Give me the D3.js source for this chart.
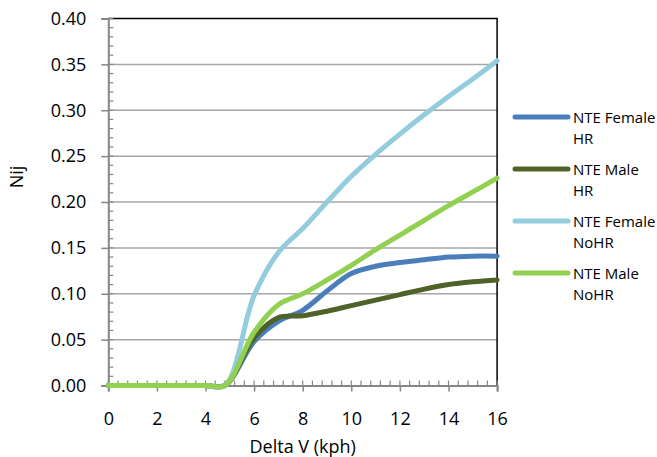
<!DOCTYPE html>
<html>
<head>
<meta charset="utf-8">
<script src="https://cdn.jsdelivr.net/npm/d3@7"></script>
<style>
    body { margin: 0; background: #fff; }
    text { font-family: "Open Sans", sans-serif; fill: #000; }
</style>
</head>
<body>
<svg id="chart" width="657" height="457"></svg>
<script>
// values
var deltaV = [0, 1, 2, 3, 4, 4.8, 6, 7, 8, 9, 10, 11, 12, 13, 14, 15, 16];
var femaleHR = [0, 0, 0, 0, 0, 0, 0.048, 0.070, 0.082, 0.103, 0.122, 0.130, 0.134, 0.137, 0.140, 0.141, 0.141];
var maleHR = [0, 0, 0, 0, 0, 0, 0.052, 0.074, 0.076, 0.081, 0.087, 0.093, 0.099, 0.105, 0.110, 0.113, 0.115];
var femaleNoHR = [0, 0, 0, 0, 0, 0, 0.098, 0.145, 0.171, 0.200, 0.228, 0.252, 0.274, 0.295, 0.315, 0.334, 0.354];
var maleNoHR = [0, 0, 0, 0, 0, 0, 0.058, 0.088, 0.100, 0.115, 0.131, 0.148, 0.164, 0.180, 0.196, 0.211, 0.226];

var seriesNames = ["NTE Female HR", "NTE Male HR", "NTE Female NoHR", "NTE Male NoHR"];
var seriesColors = ["#4a7ebb", "#4f6228", "#93cddd", "#92d050"];
var xTicks = [0, 2, 4, 6, 8, 10, 12, 14, 16];
var yTicks = [0, 0.05, 0.10, 0.15, 0.20, 0.25, 0.30, 0.35, 0.40];

var svg = d3.select("#chart");

var margins = { top: 18.5, left: 108.3, right: 497.1, bottom: 385.5 };

var xScale = d3.scaleLinear().domain([0, 16]).range([margins.left, margins.right]);
var yScale = d3.scaleLinear().domain([0, 0.4]).range([margins.bottom, margins.top]);

// gridlines
svg.append("g").attr("class", "grid")
    .selectAll("line")
    .data(yTicks.slice(1, -1))
    .enter().append("line")
    .attr("x1", margins.left)
    .attr("x2", margins.right)
    .attr("y1", yScale)
    .attr("y2", yScale)
    .style("stroke", "#a6a6a6")
    .style("stroke-width", 1.5);

// top and right frame
svg.append("path")
    .attr("d", "M" + margins.left + "," + yScale(0.4) + "H" + xScale(16) + "V" + yScale(0))
    .style("fill", "none")
    .style("stroke", "#000")
    .style("stroke-width", 1.5);

// minor ticks (inside)
var minorX = d3.range(0, 16.001, 0.4);
var minorY = d3.range(0, 0.4001, 0.01);

svg.append("g").attr("class", "minor-x")
    .selectAll("line").data(minorX).enter().append("line")
    .attr("x1", xScale).attr("x2", xScale)
    .attr("y1", margins.bottom).attr("y2", margins.bottom - 5)
    .style("stroke", "#868686").style("stroke-width", 1.2);

svg.append("g").attr("class", "minor-y")
    .selectAll("line").data(minorY).enter().append("line")
    .attr("y1", yScale).attr("y2", yScale)
    .attr("x1", margins.left).attr("x2", margins.left + 5)
    .style("stroke", "#868686").style("stroke-width", 1.2);

// axes
var xAxis = d3.axisBottom(xScale)
    .tickValues(xTicks)
    .tickSize(6)
    .tickPadding(21)
    .tickFormat(d3.format("d"));

var yAxis = d3.axisLeft(yScale)
    .tickValues(yTicks)
    .tickSize(7)
    .tickPadding(15)
    .tickFormat(d3.format(".2f"));

var xAxisG = svg.append("g")
    .attr("transform", "translate(0," + margins.bottom + ")")
    .call(xAxis);

var yAxisG = svg.append("g")
    .attr("transform", "translate(" + margins.left + ",0)")
    .call(yAxis);

[xAxisG, yAxisG].forEach(function (g) {
    g.select(".domain").style("stroke", "#868686").style("stroke-width", 2);
    g.selectAll(".tick line").style("stroke", "#868686").style("stroke-width", 1.5);
    g.selectAll(".tick text").style("font-size", "18px").style("font-family", "Open Sans, sans-serif").attr("fill", "#000");
});

// axis titles
svg.append("text")
    .attr("x", (margins.left + margins.right) / 2)
    .attr("y", 453)
    .attr("text-anchor", "middle")
    .style("font-size", "18px")
    .text("Delta V (kph)");

svg.append("text")
    .attr("transform", "translate(23,177) rotate(-90)")
    .attr("text-anchor", "middle")
    .style("font-size", "18px")
    .text("Nij");

// series lines
var allSeries = [femaleHR, maleHR, femaleNoHR, maleNoHR];

var line = d3.line()
    .x(function (d, i) { return xScale(deltaV[i]); })
    .y(function (d) { return yScale(d); })
    .curve(d3.curveCatmullRom);

svg.append("g").attr("class", "series")
    .selectAll("path")
    .data(allSeries)
    .enter().append("path")
    .attr("d", line)
    .style("fill", "none")
    .style("stroke", function (d, i) { return seriesColors[i]; })
    .style("stroke-width", 5)
    .style("stroke-linecap", "round")
    .style("stroke-linejoin", "round");

// legend
var legend = svg.append("g").attr("class", "legend")
    .attr("transform", "translate(515,117)");

var items = legend.selectAll("g")
    .data(seriesNames)
    .enter().append("g")
    .attr("transform", function (d, i) { return "translate(0," + (i * 52) + ")"; });

items.append("line")
    .attr("x1", 0).attr("x2", 53)
    .attr("y1", 0).attr("y2", 0)
    .style("stroke", function (d, i) { return seriesColors[i]; })
    .style("stroke-width", 5)
    .style("stroke-linecap", "round");

items.append("text")
    .attr("x", 58)
    .attr("y", 6)
    .style("font-size", "15px")
    .each(function (d) {
        var parts = d.split(" ");
        var t = d3.select(this);
        t.append("tspan").attr("x", 58).text(parts.slice(0, 2).join(" "));
        t.append("tspan").attr("x", 58).attr("dy", 21).text(parts[2]);
    });
</script>
</body>
</html>
